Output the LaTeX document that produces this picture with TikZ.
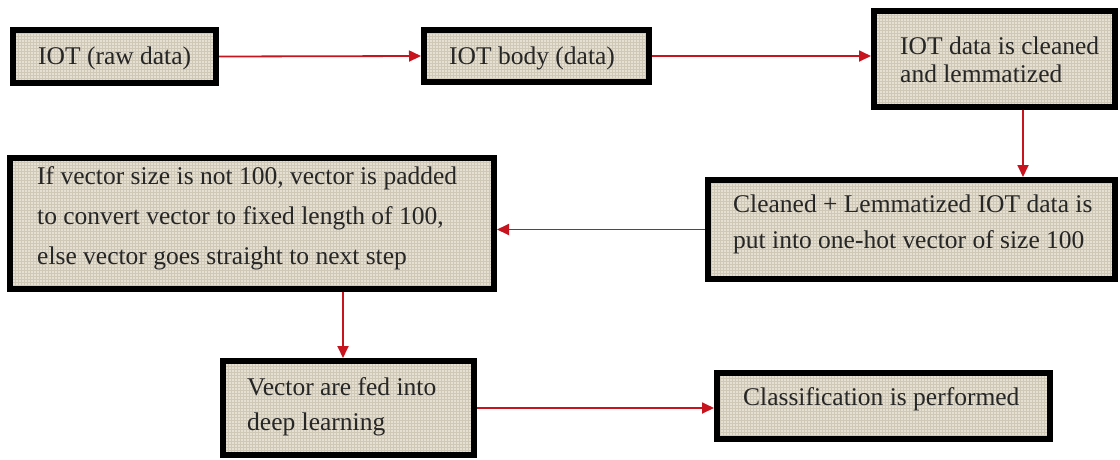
\documentclass[tikz,border=0pt]{standalone}
\usepackage{fontspec}
\setmainfont{Liberation Serif}
\usetikzlibrary{arrows.meta,patterns,shadows}
\definecolor{burlap}{RGB}{230,224,210}
\definecolor{burlapline}{RGB}{208,200,183}
\definecolor{arrred}{RGB}{200,20,30}
\begin{document}
\begin{tikzpicture}[x=1pt,y=-1pt,
  box/.style={draw=black, line width=6pt, inner sep=0pt,
    drop shadow={shadow xshift=2pt, shadow yshift=-2pt, fill=black!55, opacity=1},
    preaction={fill=burlap}, pattern=grid, pattern color=burlapline},
  txt/.style={anchor=base west, inner sep=0pt, font=\fontsize{25.5}{30}\selectfont, text=black!85},
  arr/.style={draw=arrred, line width=1.8pt, -{Triangle[length=12pt,width=11pt]}}]
\useasboundingbox (0,0) rectangle (1120,459);
% boxes
\node[box, minimum width=203pt, minimum height=53pt] (b1) at (114.5,56.5) {};
\node[box, minimum width=225pt, minimum height=52pt] (b2) at (536.5,56) {};
\node[box, minimum width=241pt, minimum height=96pt] (b3) at (994.5,59) {};
\node[box, minimum width=484pt, minimum height=131pt] (b4) at (252,223.5) {};
\node[box, minimum width=407pt, minimum height=99pt] (b5) at (911.5,229.5) {};
\node[box, minimum width=251pt, minimum height=94pt] (b6) at (348.5,408) {};
\node[box, minimum width=333pt, minimum height=66pt] (b7) at (883.5,406) {};
% texts
\node[txt] (t1) at (38,64) {IOT (raw data)};
\node[txt] (t2) at (449,64) {IOT body (data)};
\node[txt] (t3a) at (900,54) {IOT data is cleaned};
\node[txt] (t3b) at (900,82) {and lemmatized};
\node[txt] (t4a) at (37,184) {If vector size is not 100, vector is padded};
\node[txt] (t4b) at (37,224) {to convert vector to fixed length of 100,};
\node[txt] (t4c) at (37,264) {else vector goes straight to next step};
\node[txt] (t5a) at (733,212) {Cleaned + Lemmatized IOT data is};
\node[txt] (t5b) at (733,248) {put into one-hot vector of size 100};
\node[txt] (t6a) at (247,395) {Vector are fed into};
\node[txt] (t6b) at (247,430) {deep learning};
\node[txt] (t7) at (743,405) {Classification is performed};
% arrows
\coordinate (c3) at (1023,0);
\coordinate (c5) at (343,0);
\draw[arr] (b1.east) -- (b2.west);
\draw[arr] (b2.east) -- (b2.east -| b3.west);
\draw[arr] (b3.south -| c3) -- (b5.north -| c3);
\draw[arr] (b5.west) -- (b5.west -| b4.east);
\draw[arr] (b4.south -| c5) -- (b6.north -| c5);
\draw[arr] (b6.east) -- (b6.east -| b7.west);
\end{tikzpicture}
\end{document}
